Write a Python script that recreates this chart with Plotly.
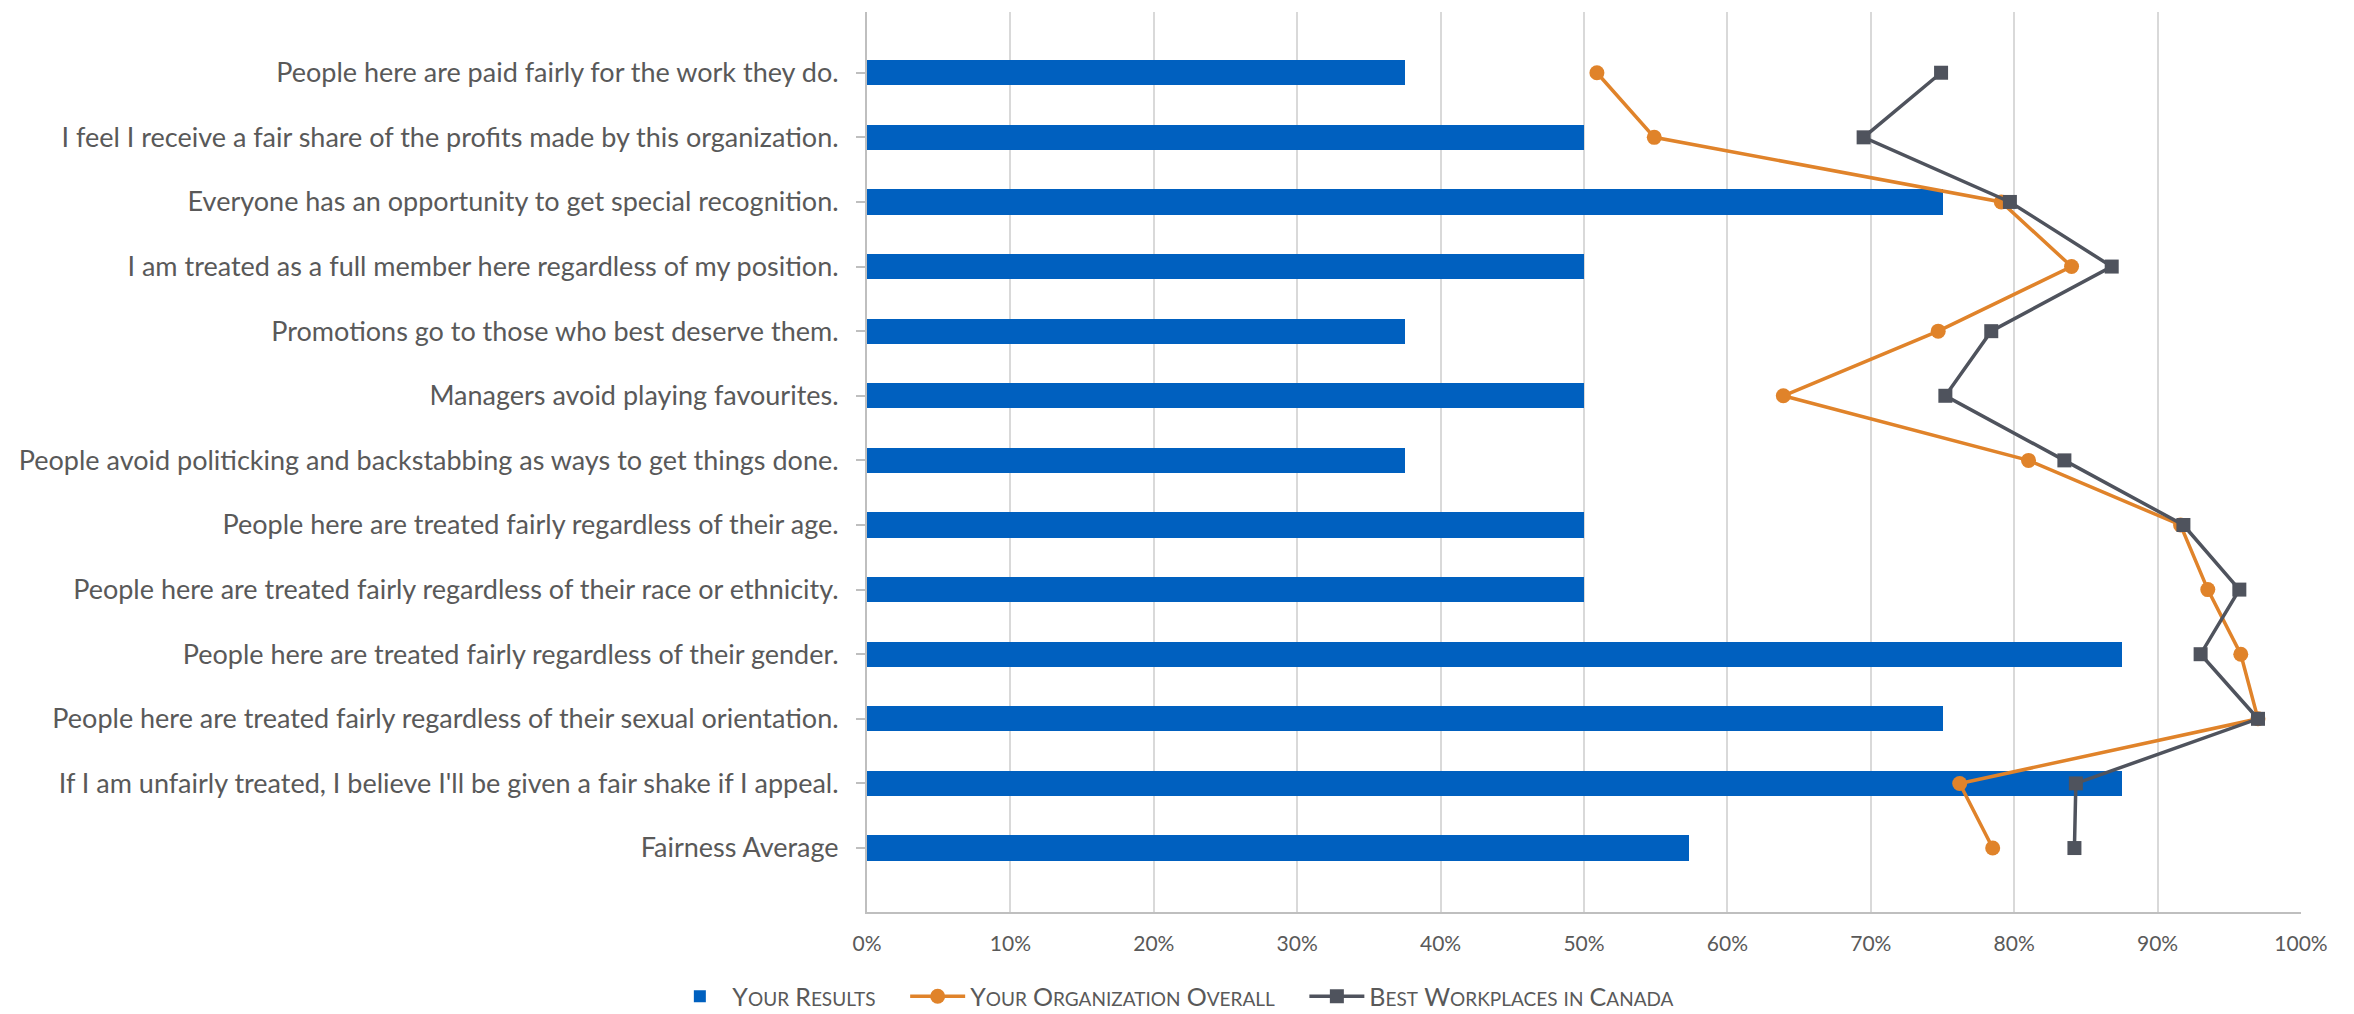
import plotly.graph_objects as go

# Survey statements, top to bottom
statements = [
    "People here are paid fairly for the work they do.",
    "I feel I receive a fair share of the profits made by this organization.",
    "Everyone has an opportunity to get special recognition.",
    "I am treated as a full member here regardless of my position.",
    "Promotions go to those who best deserve them.",
    "Managers avoid playing favourites.",
    "People avoid politicking and backstabbing as ways to get things done.",
    "People here are treated fairly regardless of their age.",
    "People here are treated fairly regardless of their race or ethnicity.",
    "People here are treated fairly regardless of their gender.",
    "People here are treated fairly regardless of their sexual orientation.",
    "If I am unfairly treated, I believe I'll be given a fair shake if I appeal.",
    "Fairness Average",
]

# Share of favourable responses (fraction)
your_results = [0.375, 0.50, 0.75, 0.50, 0.375, 0.50, 0.375, 0.50, 0.50, 0.875, 0.75, 0.875, 0.5729]
org_overall = [0.509, 0.549, 0.791, 0.840, 0.747, 0.639, 0.810, 0.916, 0.935, 0.958, 0.970, 0.762, 0.785]
best_workplaces = [0.749, 0.695, 0.797, 0.868, 0.784, 0.752, 0.835, 0.918, 0.957, 0.930, 0.970, 0.843, 0.842]

x_ticks = [i / 10 for i in range(11)]
x_tick_text = [f"{i * 10}%" for i in range(11)]

BLUE = "#0060BF"
ORANGE = "#E0832A"
GREY = "#4F535D"
TEXT = "#595959"
FONT = "Lato"


def small_caps(text, big=25, small=19):
    """Emulate small caps: capitals at full size, the rest upper-cased and smaller."""
    out = []
    for word in text.split(" "):
        if word.lower() == word:  # short lowercase words are set fully small
            out.append(f"<span style='font-size:{small}px'>{word.upper()}</span>")
        else:
            out.append(
                f"<span style='font-size:{big}px'>{word[0]}</span>"
                f"<span style='font-size:{small}px'>{word[1:].upper()}</span>"
            )
    return " ".join(out) + "&nbsp;&nbsp;&nbsp;&nbsp;"


fig = go.Figure()

fig.add_trace(go.Bar(
    y=statements, x=your_results, orientation="h",
    name=small_caps("Your Results"),
    marker=dict(color=BLUE, line=dict(width=0)),
    width=0.39,
))

fig.add_trace(go.Scatter(
    y=statements, x=org_overall, mode="lines+markers",
    name=small_caps("Your Organization Overall"),
    line=dict(color=ORANGE, width=3.5),
    marker=dict(symbol="circle", size=15, color=ORANGE),
))

fig.add_trace(go.Scatter(
    y=statements, x=best_workplaces, mode="lines+markers",
    name=small_caps("Best Workplaces in Canada"),
    line=dict(color=GREY, width=3.5),
    marker=dict(symbol="square", size=14, color=GREY),
))

fig.update_layout(
    width=2354, height=1014,
    margin=dict(l=867, r=53, t=12, b=102, autoexpand=False),
    paper_bgcolor="white", plot_bgcolor="white",
    font=dict(family=FONT, color=TEXT),
    showlegend=True,
    legend=dict(
        orientation="h", x=0.222, xanchor="center", y=-0.094, yanchor="middle",
        font=dict(family=FONT, size=24, color=TEXT),
        itemwidth=55, tracegroupgap=0,
    ),
    bargap=0,
)

fig.update_xaxes(
    range=[0, 1], tickvals=x_ticks, ticktext=x_tick_text,
    showgrid=True, gridcolor="#D9D9D9", gridwidth=1.5,
    showline=True, linecolor="#BFBFBF", linewidth=2,
    zeroline=False, ticks="", ticklabelstandoff=12,
    tickfont=dict(family=FONT, size=21, color=TEXT),
)

fig.update_yaxes(
    type="category", categoryorder="array", categoryarray=statements,
    range=[12.99, -0.94],
    showgrid=False, showline=True, linecolor="#BFBFBF", linewidth=2,
    ticks="outside", ticklen=9, tickcolor="#BFBFBF", tickwidth=2,
    ticklabelstandoff=12,
    tickfont=dict(family=FONT, size=27, color=TEXT),
)

fig.write_html("out.html")
